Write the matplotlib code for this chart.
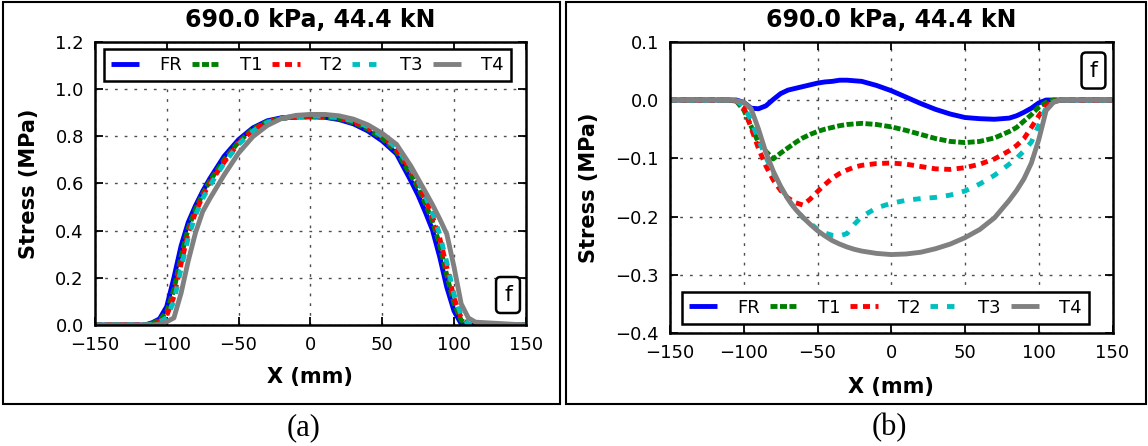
import matplotlib
matplotlib.use("Agg")
import matplotlib.pyplot as plt
from matplotlib.patches import Rectangle

# ---------------- data ----------------
series_names = ["FR", "T1", "T2", "T3", "T4"]
title_text = "690.0 kPa, 44.4 kN"
xlabel_text = "X (mm)"
ylabel_text = "Stress (MPa)"
x_ticks = [-150, -100, -50, 0, 50, 100, 150]
ya_ticks = [0.0, 0.2, 0.4, 0.6, 0.8, 1.0, 1.2]
yb_ticks = [-0.4, -0.3, -0.2, -0.1, 0.0, 0.1]

# panel (a)
xa = [-150, -115, -110, -105, -100, -95, -90, -85, -80, -75, -70, -60, -50, -40, -30, -20, -10,
      0, 10, 20, 30, 40, 50, 60, 70, 75, 80, 85, 90, 95, 100, 105, 110, 115, 150]
a_FR = [0, 0, 0.010, 0.026, 0.078, 0.200, 0.335, 0.435, 0.505, 0.566, 0.620, 0.715, 0.785, 0.835, 0.865, 0.878, 0.882,
        0.882, 0.880, 0.870, 0.852, 0.822, 0.780, 0.725, 0.611, 0.550, 0.479, 0.403, 0.290, 0.160, 0.060, 0.005, 0, 0, 0]
a_T1 = [0, 0, 0.008, 0.020, 0.055, 0.150, 0.290, 0.410, 0.490, 0.555, 0.610, 0.700, 0.775, 0.830, 0.862, 0.876, 0.880,
        0.882, 0.881, 0.873, 0.857, 0.830, 0.790, 0.735, 0.635, 0.580, 0.515, 0.440, 0.340, 0.210, 0.090, 0.020, 0, 0, 0]
a_T2 = [0, 0, 0.005, 0.015, 0.040, 0.120, 0.260, 0.390, 0.475, 0.545, 0.600, 0.690, 0.770, 0.825, 0.860, 0.875, 0.880,
        0.882, 0.882, 0.876, 0.862, 0.835, 0.797, 0.745, 0.655, 0.600, 0.535, 0.460, 0.370, 0.245, 0.115, 0.030, 0.003, 0, 0]
a_T3 = [0, 0, 0.004, 0.012, 0.032, 0.100, 0.240, 0.370, 0.465, 0.535, 0.590, 0.685, 0.765, 0.822, 0.858, 0.875, 0.882,
        0.885, 0.884, 0.878, 0.865, 0.840, 0.800, 0.750, 0.665, 0.610, 0.545, 0.475, 0.385, 0.265, 0.130, 0.040, 0.005, 0, 0]
a_T4 = [0, 0, 0, 0.004, 0.014, 0.030, 0.135, 0.272, 0.390, 0.480, 0.535, 0.636, 0.728, 0.798, 0.845, 0.875, 0.888,
        0.892, 0.892, 0.886, 0.872, 0.848, 0.812, 0.765, 0.673, 0.619, 0.565, 0.510, 0.450, 0.385, 0.247, 0.090, 0.030, 0.012, 0]

# panel (b)
xb = [-150, -110, -105, -100, -95, -90, -85, -80, -75, -70, -65, -60, -55, -50, -45, -40, -35, -30, -25, -20, -10,
      0, 10, 20, 30, 40, 50, 60, 70, 80, 85, 90, 95, 100, 105, 110, 115, 150]
b_FR = [0, 0, 0, -0.004, -0.014, -0.015, -0.010, 0.001, 0.011, 0.017, 0.020, 0.023, 0.026, 0.029, 0.031, 0.032, 0.034, 0.034, 0.033, 0.032, 0.025,
        0.016, 0.005, -0.006, -0.016, -0.024, -0.030, -0.032, -0.033, -0.031, -0.027, -0.021, -0.014, -0.005, 0, 0, 0, 0]
b_T1 = [0, 0, -0.002, -0.017, -0.045, -0.073, -0.088, -0.101, -0.091, -0.082, -0.073, -0.065, -0.059, -0.054, -0.050, -0.047, -0.044, -0.042, -0.041, -0.040, -0.042,
        -0.046, -0.052, -0.059, -0.066, -0.071, -0.073, -0.071, -0.065, -0.054, -0.047, -0.036, -0.025, -0.012, -0.004, 0, 0, 0]
b_T2 = [0, 0, -0.002, -0.012, -0.048, -0.083, -0.113, -0.137, -0.155, -0.168, -0.176, -0.180, -0.170, -0.157, -0.145, -0.134, -0.126, -0.120, -0.115, -0.112, -0.109,
        -0.108, -0.110, -0.114, -0.118, -0.119, -0.116, -0.110, -0.101, -0.087, -0.078, -0.066, -0.047, -0.027, -0.010, -0.002, 0, 0]
b_T3 = [0, 0, -0.002, -0.010, -0.035, -0.068, -0.098, -0.125, -0.150, -0.170, -0.187, -0.201, -0.211, -0.222, -0.228, -0.232, -0.233, -0.229, -0.213, -0.200, -0.185,
        -0.177, -0.172, -0.169, -0.167, -0.163, -0.156, -0.144, -0.129, -0.110, -0.100, -0.087, -0.072, -0.043, -0.013, -0.003, 0, 0]
b_T4 = [0, 0, -0.001, -0.004, -0.015, -0.050, -0.090, -0.122, -0.148, -0.170, -0.187, -0.201, -0.213, -0.224, -0.233, -0.241, -0.247, -0.252, -0.256, -0.259, -0.263,
        -0.265, -0.264, -0.261, -0.255, -0.247, -0.236, -0.222, -0.202, -0.172, -0.155, -0.135, -0.108, -0.068, -0.018, -0.004, 0, 0]

# ---------------- styles ----------------
colors = ["#0000ff", "#008000", "#ff0000", "#00bfbf", "#808080"]
styles = ["-", (0, (1.44, 0.51)), (0, (1.44, 1.13)), (0, (1.54, 1.85)), "-"]
LW = 3.5

W, H = 1148, 446
fig = plt.figure(figsize=(W / 100, H / 100), dpi=100)
plt.rcParams['font.family'] = ['DejaVu Sans']

ax_a = fig.add_axes([94.9 / W, (H - 325) / H, 430.9 / W, 283.3 / H])
ax_b = fig.add_axes([670 / W, (H - 333.3) / H, 442.5 / W, 291.6 / H])

data_a = [a_FR, a_T1, a_T2, a_T3, a_T4]
data_b = [b_FR, b_T1, b_T2, b_T3, b_T4]

for ax, xs, ys, yt, ylim in [(ax_a, xa, data_a, ya_ticks, (0, 1.2)),
                             (ax_b, xb, data_b, yb_ticks, (-0.4, 0.1))]:
    for name, yv, c, ls in zip(series_names, ys, colors, styles):
        ax.plot(xs, yv, color=c, linestyle=ls, lw=LW, label=name, solid_capstyle='butt')
    ax.set_xlim(-150, 150)
    ax.set_ylim(*ylim)
    ax.set_xticks(x_ticks)
    ax.set_yticks(yt)
    ax.grid(True, linestyle=(0, (2, 5)), color='0.3', lw=1.0)
    ax.tick_params(direction='in', top=True, right=True, length=6, width=1.3,
                   labelsize=13, pad=8)
    for sp in ax.spines.values():
        sp.set_linewidth(1.8)
    ax.set_title(title_text, fontsize=17, fontweight='bold', pad=10.5)
    ax.set_xlabel(xlabel_text, fontsize=15, fontweight='bold')
    ax.set_ylabel(ylabel_text, fontsize=15, fontweight='bold')
    ax.xaxis.label.set_va('center')
    ax.yaxis.label.set_va('center')

ax_a.xaxis.set_label_coords(0.5, -0.1853)
ax_a.yaxis.set_label_coords(-0.153, 0.5)
ax_b.xaxis.set_label_coords(0.5, -0.184)
ax_b.yaxis.set_label_coords(-0.183, 0.5)

leg_kw = dict(ncol=5, fontsize=13, handlelength=1.55, handletextpad=1.1,
              columnspacing=0.55, borderpad=0.4, borderaxespad=0, fancybox=False,
              framealpha=1, edgecolor='black')
la = ax_a.legend(loc='upper left', bbox_to_anchor=(0.0211, 0.9742), **leg_kw)
lb = ax_b.legend(loc='lower left', bbox_to_anchor=(0.0271, 0.0319), **leg_kw)
for lg in (la, lb):
    lg.get_frame().set_linewidth(1.8)

box = dict(boxstyle='round,pad=0.36,rounding_size=0.2', fc='white', ec='black', lw=1.8)
ax_a.text(0.9587, 0.1059, 'f', transform=ax_a.transAxes, ha='center', va='center',
          fontsize=16, bbox=box, zorder=10)
ax_b.text(0.957, 0.9012, 'f', transform=ax_b.transAxes, ha='center', va='center',
          fontsize=16, bbox=box, zorder=10)

# panel frames
fig.add_artist(Rectangle((3 / W, (H - 404) / H), 557 / W, 402 / H, transform=fig.transFigure,
                         fill=False, lw=1.5, ec='black'))
fig.add_artist(Rectangle((566 / W, (H - 404) / H), 580 / W, 402 / H, transform=fig.transFigure,
                         fill=False, lw=1.5, ec='black'))

# captions
fig.text(304 / W, 1 - 428 / H, '(a)', family='Liberation Serif', fontsize=22, ha='center', va='center')
fig.text(889 / W, 1 - 428 / H, '(b)', family='Liberation Serif', fontsize=22, ha='center', va='center')

fig.savefig('out.png', dpi=100)
